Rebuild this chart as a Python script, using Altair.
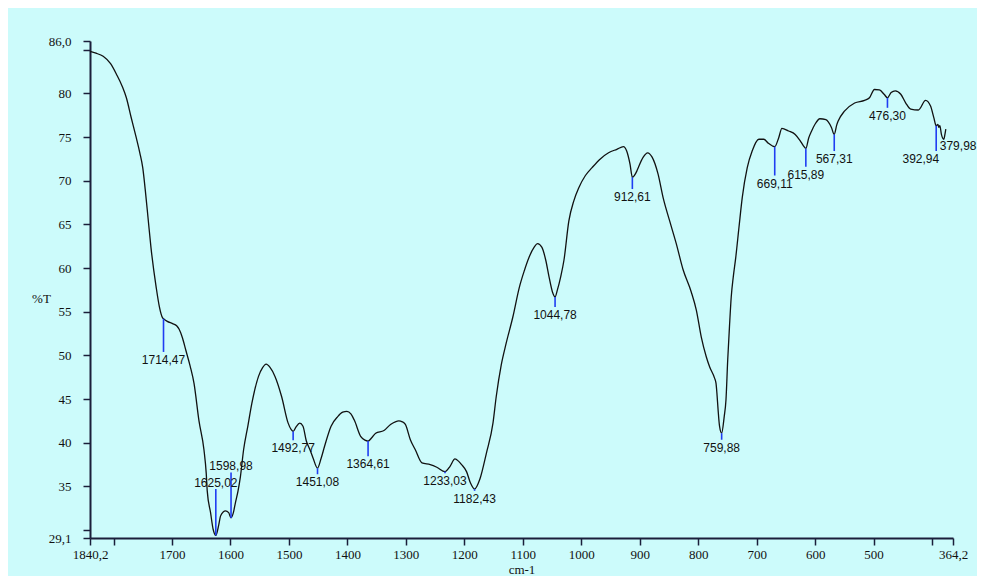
import altair as alt
import pandas as pd

# ---- spectrum trace (wavenumber cm-1, %T) ----
wavenumber = [
    1840.2, 1830, 1817.7, 1805, 1795, 1785, 1778, 1770, 1761, 1755, 1750, 1745, 1741, 1736,
    1727, 1721.6, 1716, 1714.47, 1708, 1699, 1692, 1687.7, 1682, 1676.3, 1669, 1662.3, 1653.8,
    1645.3, 1641.4, 1639.7, 1634, 1629.6, 1625.02, 1620, 1617, 1612, 1608.5, 1603, 1598.98,
    1595, 1591.6, 1587, 1583, 1577.5, 1570, 1563.4, 1552, 1545, 1539, 1532, 1523.8, 1512.5,
    1501.3, 1496, 1492.77, 1488, 1481.5, 1475.9, 1470.2, 1464, 1458.9, 1451.08, 1445, 1439,
    1427.9, 1416.5, 1408, 1400.8, 1394, 1388.2, 1377, 1370, 1364.61, 1358, 1351.6, 1337.4,
    1326.2, 1318, 1312, 1306, 1300.8, 1292.3, 1283.8, 1272.5, 1258.3, 1247, 1233.03, 1224.4,
    1216, 1210, 1204.7, 1196.2, 1189.5, 1182.43, 1173.6, 1162.3, 1151, 1145.4, 1136.9, 1128.4,
    1117, 1105.9, 1097.4, 1088.9, 1080.5, 1074.8, 1067.5, 1060.7, 1055.1, 1049.4, 1044.78,
    1040.8, 1035.2, 1029.6, 1021.2, 1012.7, 1004.2, 992.9, 981.5, 967.4, 953.3, 939.2, 927.9,
    922.3, 916.6, 912.61, 905, 902.5, 894, 886.6, 878.8, 868.6, 860.1, 848.8, 837.5, 826.2,
    812, 803.2, 794.7, 786.2, 780.5, 772, 769.5, 768, 766, 763.5, 759.88, 755.5, 752.5,
    749.5, 746.5, 743.5, 740, 735.8, 730.2, 724.6, 716.1, 707.7, 696.3, 687.9, 680, 669.11,
    662.4, 656.8, 645.5, 634.1, 625.7, 620, 615.89, 611, 606, 600, 591.8, 581.6, 572.1,
    567.31, 563, 560.8, 549.4, 532.4, 515.5, 507, 498.6, 490.1, 482, 476.3, 470, 463, 453.5,
    445, 436.5, 423.5, 411.1, 402.6, 396.9, 392.94, 390, 388.5, 386.7, 384, 379.98, 378, 376.5,
]
transmittance = [
    84.8, 84.6, 84.25, 83.4, 82.2, 80.8, 79.5, 77.3, 74.9, 73.2, 71.5, 68.5, 65.8, 62.4,
    57.8, 55.6, 54.3, 54.2, 53.9, 53.65, 53.4, 53.0, 52.0, 50.6, 48.8, 46.8, 42.5,
    39.2, 36.5, 34.5, 32.0, 30.1, 29.4, 30.6, 31.6, 32.1, 32.2, 32.0, 31.4,
    32.0, 33.1, 34.5, 36.1, 39.2, 42.0, 44.5, 47.6, 48.6, 49.0, 48.6, 47.6, 45.3,
    42.25, 41.5, 41.3, 41.8, 42.25, 41.9, 40.2, 39.2, 38.3, 37.1, 38.2, 39.6,
    41.9, 43.0, 43.5, 43.6, 43.3, 42.6, 40.7, 40.3, 40.2, 40.6, 41.1, 41.4,
    42.1, 42.4, 42.5, 42.4, 42.1, 40.35, 39.2, 37.7, 37.5, 37.2, 36.7, 37.3,
    38.15, 37.9, 37.5, 36.7, 35.4, 34.7, 35.8, 38.8, 42.25, 45.3, 48.9, 51.4,
    54.4, 57.8, 59.7, 61.3, 62.4, 62.8, 62.4, 60.9, 59.0, 57.3, 56.7,
    57.5, 59.0, 60.9, 65.4, 67.7, 69.2, 70.6, 71.5, 72.5, 73.2, 73.6, 73.9,
    73.4, 71.9, 70.4, 71.1, 71.5, 72.7, 73.2, 72.7, 70.75, 68.1, 65.4, 62.8, 59.9,
    57.3, 55.2, 52.1, 49.85, 48.7, 47.4, 46.8, 45.7, 43.8, 41.9, 41.1, 43.0, 44.9,
    49.5, 53.3, 56.7, 59.0, 61.2, 64.7, 68.1, 71.5, 73.4, 74.75, 74.75, 74.3, 73.9,
    74.9, 76.0, 75.7, 75.3, 74.6, 74.0, 73.7, 74.9, 75.7, 76.5, 77.1, 77.0, 76.1,
    75.3, 76.4, 76.8, 78.0, 78.9, 79.2, 79.5, 80.45, 80.4, 79.9, 79.5, 80.1, 80.3, 79.9,
    78.9, 78.2, 78.1, 79.2, 78.55, 77.2, 76.3, 76.45, 76.1, 76.3, 75.3, 74.75, 75.3, 75.9,
]

# ---- peak picks ----
peak_wn = [1714.47, 1625.02, 1598.98, 1492.77, 1451.08, 1364.61, 1233.03, 1182.43,
           1044.78, 912.61, 759.88, 669.11, 615.89, 567.31, 476.30, 392.94, 379.98]
peak_label = ["1714,47", "1625,02", "1598,98", "1492,77", "1451,08", "1364,61", "1233,03",
              "1182,43", "1044,78", "912,61", "759,88", "669,11", "615,89", "567,31",
              "476,30", "392,94", "379,98"]
peak_t = [54.2, 29.4, 31.4, 41.3, 37.1, 40.2, 36.7, 34.7, 56.7, 70.4, 41.1, 73.9, 73.7,
          75.3, 79.5, 76.3, 74.75]
peak_end = [50.4, 34.7, 36.6, 40.3, 36.4, 38.45, 36.5, 34.5, 55.55, 69.05, 40.35, 70.6,
            71.6, 73.4, 78.35, 73.4, 74.75]

x_ticks = [1840.2, 1800, 1700, 1600, 1500, 1400, 1300, 1200, 1100, 1000, 900, 800, 700,
           600, 500, 400, 364.2]
y_ticks = [29.1, 30, 35, 40, 45, 50, 55, 60, 65, 70, 75, 80, 85, 86.0]

spec = pd.DataFrame({"wn": wavenumber, "T": transmittance, "i": range(len(wavenumber))})
peaks = pd.DataFrame({"wn": peak_wn, "T": peak_t, "end": peak_end, "label": peak_label})
peaks["pos"] = "below"
peaks.loc[peaks["wn"].isin([1625.02, 1598.98]), "pos"] = "above"
peaks.loc[peaks["wn"] == 392.94, "pos"] = "right"
peaks.loc[peaks["wn"] == 379.98, "pos"] = "side"

AX = "#1b1e3a"
x_scale = alt.Scale(domain=[1840.2, 364.2], nice=False, zero=False)
y_scale = alt.Scale(domain=[29.1, 86.0], nice=False, zero=False)

x_axis = alt.Axis(
    values=x_ticks, title="cm-1", labelOverlap=False, labelFlush=False, grid=False,
    labelExpr="(datum.value == 1800 || datum.value == 400) ? '' : replace(format(datum.value, '.1~f'), '.', ',')",
    tickSize=7, tickWidth=1.5, tickColor=AX, domainColor=AX, domainWidth=2,
    labelFont="Liberation Serif", labelFontSize=13, labelColor="#111", labelPadding=3,
    titleFont="Liberation Serif", titleFontSize=13, titleFontWeight="normal", titleColor="#111",
    titleY=31, titleBaseline="middle",
)
y_axis = alt.Axis(
    values=y_ticks, title="%T", labelOverlap=False, labelFlush=False, grid=False,
    labelExpr="datum.value == 86 ? '86,0' : (datum.value == 30 || datum.value == 85) ? '' : replace(format(datum.value, '.1~f'), '.', ',')",
    tickSize=7, tickWidth=1.5, tickColor=AX, domainColor=AX, domainWidth=2,
    labelFont="Liberation Serif", labelFontSize=13, labelColor="#111", labelPadding=12,
    titleFont="Liberation Serif", titleFontSize=13, titleFontWeight="normal", titleColor="#111",
    titleAngle=0, titleX=-49, titleY=257, titleAlign="center", titleBaseline="middle",
)

line = alt.Chart(spec).mark_line(color="#111111", strokeWidth=1.3, interpolate="monotone").encode(
    x=alt.X("wn:Q", scale=x_scale, axis=x_axis),
    y=alt.Y("T:Q", scale=y_scale, axis=y_axis),
    order="i:Q",
)

rules = alt.Chart(peaks).mark_rule(color="#1f3df2", strokeWidth=1.6).encode(
    x=alt.X("wn:Q", axis=x_axis), y=alt.Y("T:Q", axis=y_axis), y2="end:Q"
)

lab_font = dict(font="Liberation Sans", fontSize=12, color="#111111")


def labels(pos, **kw):
    return alt.Chart(peaks).transform_filter(f"datum.pos == '{pos}'").mark_text(
        **kw, **lab_font
    ).encode(x=alt.X("wn:Q", axis=x_axis), y=alt.Y("end:Q", axis=y_axis), text="label:N")


below = labels("below", baseline="top", align="center", dy=3)
above = labels("above", baseline="bottom", align="center", dy=1)
right = labels("right", baseline="top", align="right", dx=3, dy=3)
side = labels("side", baseline="top", align="left", dx=-4, dy=2)

chart = alt.layer(line, rules, below, above, right, side).properties(
    width=863, height=497,
    autosize="none",
    padding={"left": 82, "top": 33, "right": 24, "bottom": 38},
    background="#ccfbfb",
).configure_view(stroke=None).configure_axis(labelOverlap=False)

chart.save("out.html", embed_options={"renderer": "svg", "actions": False})
